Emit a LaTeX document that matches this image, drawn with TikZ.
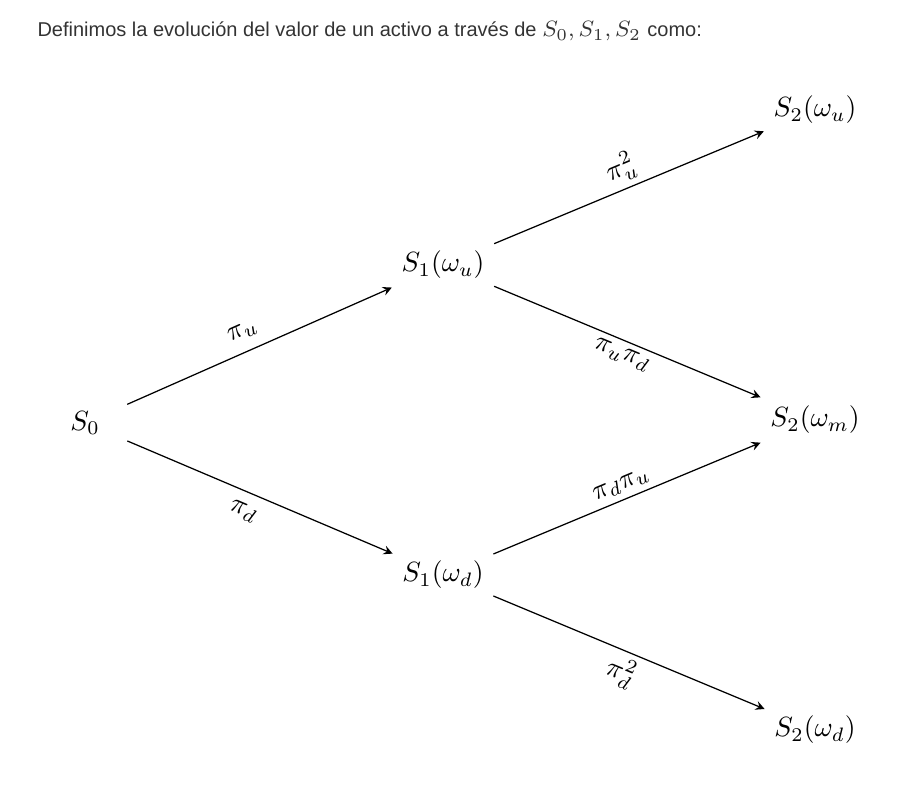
\documentclass[tikz,border=0pt]{standalone}
\usepackage{fontspec}
\setmainfont{Liberation Sans}
\usepackage{amsmath}
\begin{document}
\begin{tikzpicture}[x=0.36pt,y=-0.36pt,
  state/.style={inner sep=3.3pt, font=\fontsize{10}{12}\selectfont},
  edge/.style={-stealth, line width=0.45pt},
  lab/.style={sloped, font=\fontsize{10}{12}\selectfont, inner sep=2pt},
  labw/.style={lab, inner sep=4pt}]
\useasboundingbox (0,0) rectangle (901,785);
\node[anchor=base west, inner sep=0, font=\fontsize{7.2}{8.5}\selectfont, text=black!80] (hdr) at (37,37)
  {Definimos la evolución del valor de un activo a través de \fontsize{8.2}{9}\selectfont$S_0, S_1, S_2$ \fontsize{7.2}{8.5}\selectfont como:};
\node[state] (s0) at (85,423) {$S_0$};
\node[state] (s1u) at (443,265) {$S_1(\omega_u)$};
\node[state] (s1d) at (443,575) {$S_1(\omega_d)$};
\node[state] (s2u) at (815,110) {$S_2(\omega_u)$};
\node[state] (s2m) at (815,420) {$S_2(\omega_m)$};
\node[state] (s2d) at (815,730) {$S_2(\omega_d)$};
\draw[edge, shorten <=7pt] (s0) -- node[labw, pos=0.5, above] {$\pi_u$} (s1u);
\draw[edge, shorten <=7pt] (s0) -- node[labw, pos=0.5, below] {$\pi_d$} (s1d);
\draw[edge] (s1u) -- node[lab, pos=0.5, above] {$\pi_u^2$} (s2u);
\draw[edge] (s1u) -- node[lab, pos=0.5, below] {$\pi_u\pi_d$} (s2m);
\draw[edge] (s1d) -- node[lab, pos=0.5, above] {$\pi_d\pi_u$} (s2m);
\draw[edge] (s1d) -- node[lab, pos=0.5, below] {$\pi_d^2$} (s2d);
\end{tikzpicture}
\end{document}
